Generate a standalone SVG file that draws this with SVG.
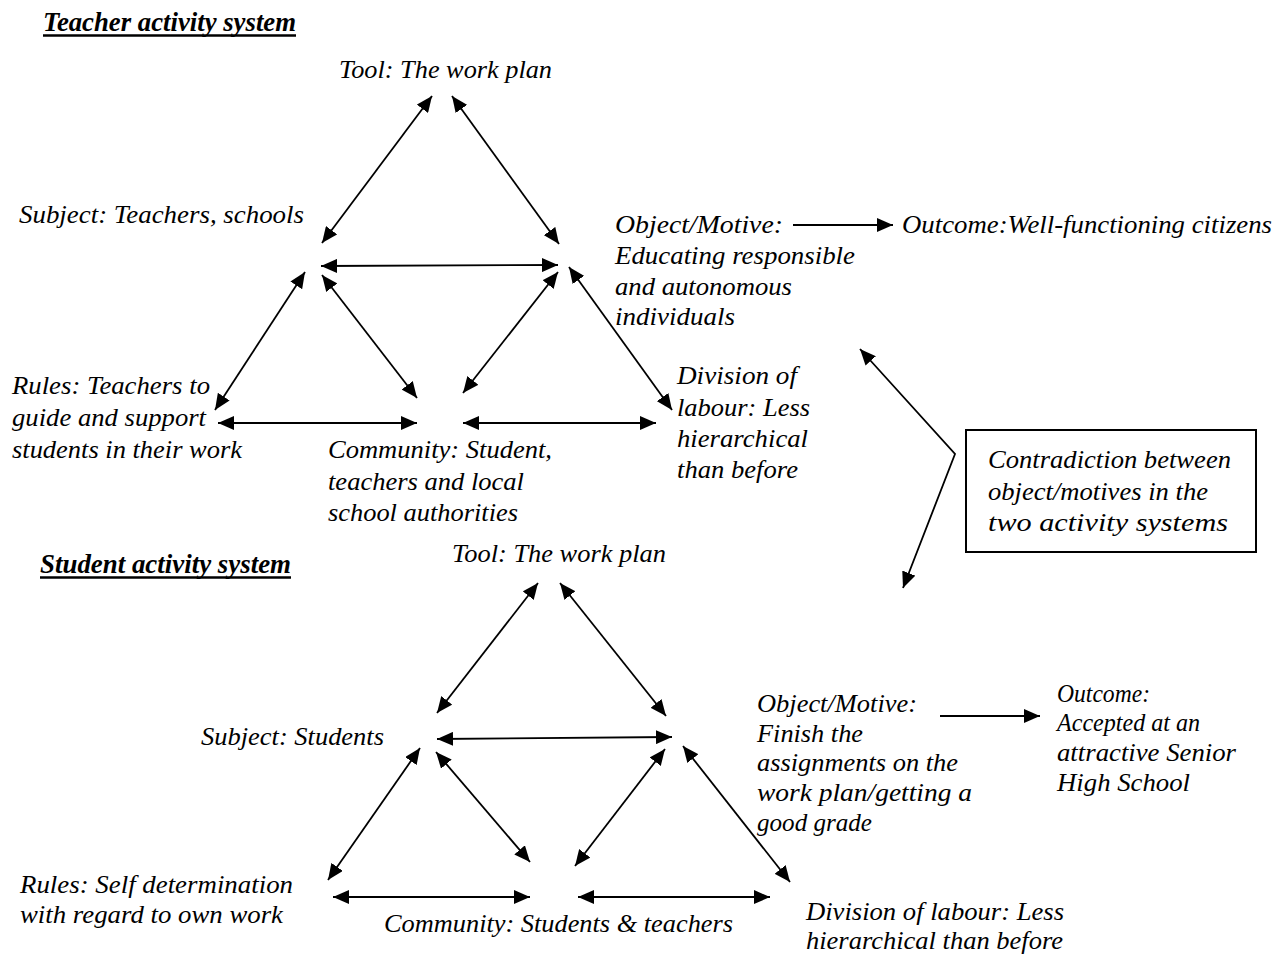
<svg xmlns="http://www.w3.org/2000/svg" width="1283" height="954" viewBox="0 0 1283 954">
  <style>
    .t { font-family: 'Liberation Serif', 'Times New Roman', 'DejaVu Serif', serif; font-style: italic; font-size: 24.5px; fill: #000; }
    .title { font-weight: bold; font-size: 26.5px; }
    .link { stroke: #000; stroke-width: 1.8; fill: none; }
    .rule { stroke: #000; stroke-width: 2.5; }
  </style>
  <defs>
    <marker id="head" viewBox="0 0 16 14" refX="16" refY="7" markerWidth="16" markerHeight="14" markerUnits="userSpaceOnUse" orient="auto-start-reverse">
      <path d="M0,0 L16,7 L0,14 Z" fill="#000"/>
    </marker>
  </defs>
  <rect width="1283" height="954" fill="#fff"/>

  <!-- Teacher activity system -->
  <g id="teacher-title">
    <text class="t title" x="43" y="31" textLength="253" lengthAdjust="spacingAndGlyphs">Teacher activity system</text>
    <line class="rule" x1="43" y1="35.5" x2="296" y2="35.5"/>
  </g>
  <g id="t-tool"><text class="t" x="339" y="78" textLength="213" lengthAdjust="spacingAndGlyphs">Tool: The work plan</text></g>
  <g id="t-subject"><text class="t" x="19" y="223" textLength="285" lengthAdjust="spacingAndGlyphs">Subject: Teachers, schools</text></g>
  <g id="t-object">
    <text class="t" x="615" y="233" textLength="168" lengthAdjust="spacingAndGlyphs">Object/Motive:</text>
    <text class="t" x="615" y="264" textLength="240" lengthAdjust="spacingAndGlyphs">Educating responsible</text>
    <text class="t" x="615" y="295" textLength="177" lengthAdjust="spacingAndGlyphs">and autonomous</text>
    <text class="t" x="615" y="325" textLength="120" lengthAdjust="spacingAndGlyphs">individuals</text>
  </g>
  <g id="t-outcome"><text class="t" x="902" y="233" textLength="370" lengthAdjust="spacingAndGlyphs">Outcome:Well-functioning citizens</text></g>
  <g id="t-rules">
    <text class="t" x="12" y="394" textLength="198" lengthAdjust="spacingAndGlyphs">Rules: Teachers to</text>
    <text class="t" x="12" y="426" textLength="194" lengthAdjust="spacingAndGlyphs">guide and support</text>
    <text class="t" x="12" y="458" textLength="230" lengthAdjust="spacingAndGlyphs">students in their work</text>
  </g>
  <g id="t-community">
    <text class="t" x="328" y="458" textLength="224" lengthAdjust="spacingAndGlyphs">Community: Student,</text>
    <text class="t" x="328" y="490" textLength="196" lengthAdjust="spacingAndGlyphs">teachers and local</text>
    <text class="t" x="328" y="521" textLength="190" lengthAdjust="spacingAndGlyphs">school authorities</text>
  </g>
  <g id="t-division">
    <text class="t" x="677" y="384" textLength="120" lengthAdjust="spacingAndGlyphs">Division of</text>
    <text class="t" x="677" y="416" textLength="133" lengthAdjust="spacingAndGlyphs">labour: Less</text>
    <text class="t" x="677" y="447" textLength="131" lengthAdjust="spacingAndGlyphs">hierarchical</text>
    <text class="t" x="677" y="478" textLength="121" lengthAdjust="spacingAndGlyphs">than before</text>
  </g>

  <!-- Contradiction note -->
  <g id="contradiction">
    <rect x="966" y="430" width="290" height="122" fill="none" stroke="#000" stroke-width="2"/>
    <text class="t" x="988" y="468" textLength="243" lengthAdjust="spacingAndGlyphs">Contradiction between</text>
    <text class="t" x="988" y="500" textLength="220" lengthAdjust="spacingAndGlyphs">object/motives in the</text>
    <text class="t" x="988" y="531" textLength="240" lengthAdjust="spacingAndGlyphs">two activity systems</text>
  </g>

  <!-- Student activity system -->
  <g id="student-title">
    <text class="t title" x="40" y="573" textLength="251" lengthAdjust="spacingAndGlyphs">Student activity system</text>
    <line class="rule" x1="40" y1="577.5" x2="291" y2="577.5"/>
  </g>
  <g id="s-tool"><text class="t" x="452" y="562" textLength="214" lengthAdjust="spacingAndGlyphs">Tool: The work plan</text></g>
  <g id="s-subject"><text class="t" x="201" y="745" textLength="183" lengthAdjust="spacingAndGlyphs">Subject: Students</text></g>
  <g id="s-object">
    <text class="t" x="757" y="712" textLength="160" lengthAdjust="spacingAndGlyphs">Object/Motive:</text>
    <text class="t" x="757" y="742" textLength="106" lengthAdjust="spacingAndGlyphs">Finish the</text>
    <text class="t" x="757" y="771" textLength="201" lengthAdjust="spacingAndGlyphs">assignments on the</text>
    <text class="t" x="757" y="801" textLength="215" lengthAdjust="spacingAndGlyphs">work plan/getting a</text>
    <text class="t" x="757" y="831" textLength="115" lengthAdjust="spacingAndGlyphs">good grade</text>
  </g>
  <g id="s-outcome">
    <text class="t" x="1057" y="702" textLength="93" lengthAdjust="spacingAndGlyphs">Outcome:</text>
    <text class="t" x="1057" y="731" textLength="143" lengthAdjust="spacingAndGlyphs">Accepted at an</text>
    <text class="t" x="1057" y="761" textLength="179" lengthAdjust="spacingAndGlyphs">attractive Senior</text>
    <text class="t" x="1057" y="791" textLength="133" lengthAdjust="spacingAndGlyphs">High School</text>
  </g>
  <g id="s-rules">
    <text class="t" x="20" y="893" textLength="273" lengthAdjust="spacingAndGlyphs">Rules: Self determination</text>
    <text class="t" x="20" y="923" textLength="263" lengthAdjust="spacingAndGlyphs">with regard to own work</text>
  </g>
  <g id="s-community"><text class="t" x="384" y="932" textLength="349" lengthAdjust="spacingAndGlyphs">Community: Students &amp; teachers</text></g>
  <g id="s-division">
    <text class="t" x="806" y="920" textLength="258" lengthAdjust="spacingAndGlyphs">Division of labour: Less</text>
    <text class="t" x="806" y="949" textLength="257" lengthAdjust="spacingAndGlyphs">hierarchical than before</text>
  </g>

  <!-- Connectors -->
  <g id="connectors">
    <!-- teacher triangle -->
    <line class="link" x1="432" y1="96" x2="322" y2="243" marker-start="url(#head)" marker-end="url(#head)"/>
    <line class="link" x1="452" y1="96" x2="559" y2="244" marker-start="url(#head)" marker-end="url(#head)"/>
    <line class="link" x1="321" y1="266" x2="558" y2="265" marker-start="url(#head)" marker-end="url(#head)"/>
    <line class="link" x1="305" y1="272" x2="215" y2="410" marker-start="url(#head)" marker-end="url(#head)"/>
    <line class="link" x1="322" y1="275" x2="417" y2="398" marker-start="url(#head)" marker-end="url(#head)"/>
    <line class="link" x1="558" y1="272" x2="463" y2="393" marker-start="url(#head)" marker-end="url(#head)"/>
    <line class="link" x1="569" y1="267" x2="672" y2="410" marker-start="url(#head)" marker-end="url(#head)"/>
    <line class="link" x1="218" y1="423" x2="417" y2="423" marker-start="url(#head)" marker-end="url(#head)"/>
    <line class="link" x1="463" y1="423" x2="656" y2="423" marker-start="url(#head)" marker-end="url(#head)"/>
    <line class="link" x1="793" y1="225" x2="893" y2="225" marker-end="url(#head)"/>
    <!-- contradiction link -->
    <polyline class="link" points="860,349 955,454 903,588" marker-start="url(#head)" marker-end="url(#head)"/>
    <!-- student triangle -->
    <line class="link" x1="538" y1="583" x2="437" y2="713" marker-start="url(#head)" marker-end="url(#head)"/>
    <line class="link" x1="560" y1="583" x2="666" y2="716" marker-start="url(#head)" marker-end="url(#head)"/>
    <line class="link" x1="437" y1="739" x2="672" y2="737" marker-start="url(#head)" marker-end="url(#head)"/>
    <line class="link" x1="420" y1="748" x2="328" y2="880" marker-start="url(#head)" marker-end="url(#head)"/>
    <line class="link" x1="436" y1="752" x2="530" y2="862" marker-start="url(#head)" marker-end="url(#head)"/>
    <line class="link" x1="665" y1="749" x2="575" y2="866" marker-start="url(#head)" marker-end="url(#head)"/>
    <line class="link" x1="683" y1="746" x2="790" y2="882" marker-start="url(#head)" marker-end="url(#head)"/>
    <line class="link" x1="333" y1="897" x2="530" y2="897" marker-start="url(#head)" marker-end="url(#head)"/>
    <line class="link" x1="578" y1="897" x2="770" y2="897" marker-start="url(#head)" marker-end="url(#head)"/>
    <line class="link" x1="940" y1="716" x2="1040" y2="716" marker-end="url(#head)"/>
  </g>
</svg>
